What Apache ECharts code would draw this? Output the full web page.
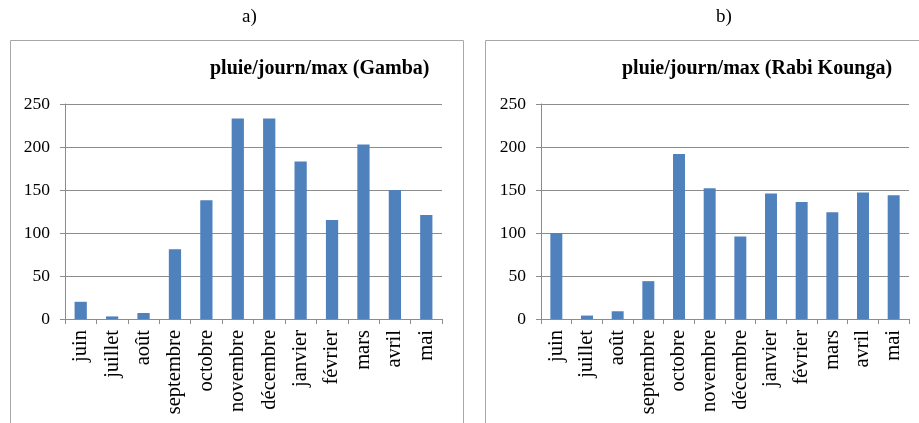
<!DOCTYPE html>
<html>
<head>
<meta charset="utf-8">
<script src="https://cdn.jsdelivr.net/npm/echarts@6/dist/echarts.min.js"></script>
<style>
html,body{margin:0;padding:0;background:#fff;}
#c{width:919px;height:423px;}
</style>
</head>
<body>
<div id="c"></div>
<script>
const months = ['juin','juillet','août','septembre','octobre','novembre','décembre','janvier','février','mars','avril','mai'];
const gambaValues = [20, 3, 7, 81, 138, 233, 233, 183, 115, 203, 150, 121];
const rabiKoungaValues = [100, 4, 9, 44, 192, 152, 96, 146, 136, 124, 147, 144];
const titleA = 'pluie/journ/max (Gamba)';
const titleB = 'pluie/journ/max (Rabi Kounga)';
const panelA = 'a)';
const panelB = 'b)';

const FONT = '"Liberation Serif", "Times New Roman", serif';
const GRID_COLOR = '#8c8c8c';
const BAR_COLOR = '#4f81bd';

function xAxis(gi){
  return {
    type:'category', gridIndex:gi, data:months,
    axisLine:{show:true, lineStyle:{color:GRID_COLOR, width:1}},
    axisTick:{show:true, alignWithLabel:false, length:5, lineStyle:{color:GRID_COLOR}},
    axisLabel:{rotate:90, margin:11, fontFamily:FONT, fontSize:20.5, color:'#000', interval:0}
  };
}
function yAxis(gi){
  return {
    type:'value', gridIndex:gi, min:0, max:250, interval:50,
    axisLine:{show:true, lineStyle:{color:GRID_COLOR, width:1}},
    axisTick:{show:true, length:5, lineStyle:{color:GRID_COLOR}},
    splitLine:{show:true, lineStyle:{color:GRID_COLOR, width:1}},
    axisLabel:{margin:15, fontFamily:FONT, fontSize:17.5, color:'#000'}
  };
}

const chart = echarts.init(document.getElementById('c'), null, {renderer:'canvas'});
chart.setOption({
  animation:false,
  backgroundColor:'#fff',
  graphic:[
    {type:'rect', shape:{x:10.5, y:40.5, width:453, height:420}, style:{fill:'none', stroke:'#a8a8a8', lineWidth:1}, z:-10},
    {type:'rect', shape:{x:485.5, y:40.5, width:460, height:420}, style:{fill:'none', stroke:'#a8a8a8', lineWidth:1}, z:-10},
    {type:'text', left:242, top:8, style:{text:panelA, font:'19px ' + FONT, fill:'#000'}},
    {type:'text', left:716, top:8, style:{text:panelB, font:'19px ' + FONT, fill:'#000'}}
  ],
  title:[
    {text:titleA, left:205, top:54, textStyle:{fontFamily:FONT, fontWeight:'bold', fontSize:20, color:'#000'}},
    {text:titleB, left:617, top:54, textStyle:{fontFamily:FONT, fontWeight:'bold', fontSize:20, color:'#000'}}
  ],
  grid:[
    {left:65, top:104, width:377, height:215},
    {left:541, top:104, width:368, height:215}
  ],
  xAxis:[xAxis(0), xAxis(1)],
  yAxis:[yAxis(0), yAxis(1)],
  series:[
    {type:'bar', xAxisIndex:0, yAxisIndex:0, data:gambaValues, barWidth:'39%', itemStyle:{color:BAR_COLOR}},
    {type:'bar', xAxisIndex:1, yAxisIndex:1, data:rabiKoungaValues, barWidth:'39%', itemStyle:{color:BAR_COLOR}}
  ]
});
</script>
</body>
</html>
